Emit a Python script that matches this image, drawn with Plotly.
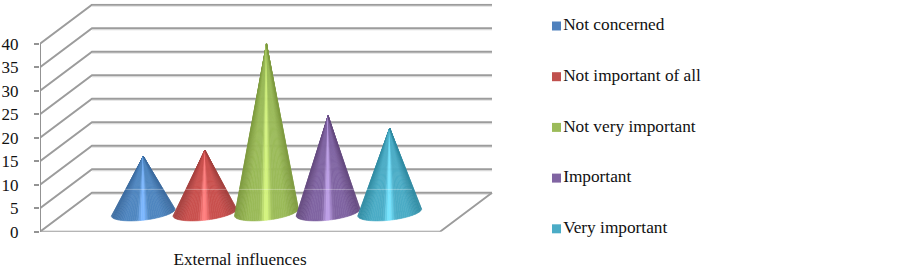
import numpy as np
import plotly.graph_objects as go
from plotly.colors import sample_colorscale

category = "External influences"
series = ["Not concerned", "Not important of all", "Not very important", "Important", "Very important"]
values = [11.9, 13.2, 35.8, 20.5, 17.9]
ticks = [0, 5, 10, 15, 20, 25, 30, 35, 40]
edge = ["#3a6a9e", "#a33f3d", "#7e9a3f", "#64497f", "#2f8aa1"]
mid = ["#4f86c0", "#c9504e", "#9bbb59", "#8064a2", "#4bacc6"]
glow = ["#7db8ff", "#ff8080", "#d4f47e", "#bd9fe6", "#76e4ff"]
swatch = ["#4f81bd", "#c0504d", "#9bbb59", "#8064a2", "#4bacc6"]

W, H = 900, 270
PX = 400.0           # front floor width (px) = 1 x-unit
PY = 4.7             # px per value unit
X0, Y0 = 40.0, 231.7
DX = 52.0 / PX       # depth offset
DY = 39.0 / PY
XMAX = 1.135
YMAX = 48.5
FLOOR = 0.5          # cone base depth
centers = [(143.3 + 61.6 * i - X0) / PX for i in range(5)]
RAD = 32.0 / PX
ELL = 8.0 / PY
TILT = 3.5 / PY
WEDGES = 44

fig = go.Figure()

def seg(x, y, color, width=2):
    fig.add_trace(go.Scatter(x=x, y=y, mode="lines", line=dict(color=color, width=width),
                             showlegend=False, hoverinfo="skip"))

# walls, floor and axis
for t in ticks:
    seg([DX, 1 + DX], [t + DY - 0.35, t + DY - 0.35], "#e2e2e2", 1)
    seg([0, DX, 1 + DX], [t, t + DY, t + DY], "#9c9c9c", 2)
seg([0, 1, 1 + DX], [0, 0, DY], "#9c9c9c", 2)
seg([0, 0], [-1, 40], "#939393", 2)
seg([1, 1], [0, -1], "#939393", 1.5)

# cones: conic shading, one thin wedge per facet
th = np.linspace(np.pi, 0, WEDGES + 1)
for i, name in enumerate(series):
    c, v = centers[i], values[i]
    base = FLOOR * DY
    bx = c + RAD * np.cos(th)
    by = base + TILT * np.cos(th) - ELL * np.sin(th)
    cs = [[0, edge[i]], [0.22, mid[i]], [0.40, mid[i]], [0.475, glow[i]], [0.515, glow[i]],
          [0.60, mid[i]], [0.80, mid[i]], [1, edge[i]]]
    for k in range(WEDGES):
        u = (bx[k] + bx[k + 1] - 2 * (c - RAD)) / (4 * RAD)
        col = sample_colorscale(cs, [u])[0]
        fig.add_trace(go.Scatter(x=[c, bx[k], bx[k + 1], c], y=[base + v, by[k], by[k + 1], base + v],
                                 mode="lines", fill="toself", fillcolor=col,
                                 line=dict(color=col, width=0.6),
                                 name=name, showlegend=False, hoverinfo="skip"))

# faint reflected line seen through the cones
seg([centers[0] - RAD * 0.7, centers[4] + RAD * 0.7], [DY + 0.7, DY + 0.7], "rgba(255,255,255,0.3)", 1)

# legend
for i, name in enumerate(series):
    fig.add_trace(go.Scatter(x=[556.5], y=[H - (26 + 50.7 * i)], mode="markers+text", text=[name],
                             textposition="middle right",
                             marker=dict(symbol="square", size=9, color=swatch[i]),
                             textfont=dict(family="Liberation Serif", size=17.3, color="#111111"),
                             xaxis="x2", yaxis="y2", showlegend=False, hoverinfo="skip"))

fig.update_layout(
    width=W, height=H, autosize=False, paper_bgcolor="white", plot_bgcolor="rgba(0,0,0,0)",
    margin=dict(l=0, r=0, t=0, b=0, autoexpand=False), showlegend=False,
    font=dict(family="Liberation Serif", color="#111111", size=17),
    xaxis=dict(domain=[X0 / W, (X0 + XMAX * PX) / W], range=[0, XMAX], showgrid=False, zeroline=False,
               tickvals=[0.5], ticktext=[category], ticks="", ticklabelstandoff=15,
               tickfont=dict(size=17.2), anchor="y", automargin=False),
    yaxis=dict(domain=[(H - Y0) / H, (H - Y0 + YMAX * PY) / H], range=[0, YMAX], showgrid=False, zeroline=False,
               tickvals=ticks, ticks="outside", ticklen=5, tickcolor="#939393", tickwidth=2,
               ticklabelstandoff=12, anchor="x", automargin=False),
    xaxis2=dict(domain=[0, 1], range=[0, W], visible=False, anchor="y2", automargin=False),
    yaxis2=dict(domain=[0, 1], range=[0, H], visible=False, anchor="x2", automargin=False),
)
fig.write_html("out.html", config=dict(displayModeBar=False),
               post_script="document.body.style.margin='0';")
